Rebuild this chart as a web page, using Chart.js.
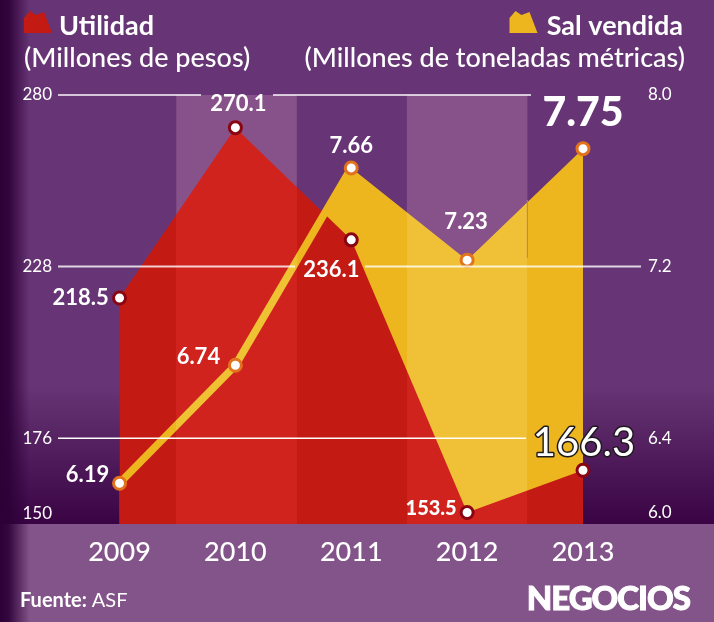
<!DOCTYPE html>
<html>
<head>
<meta charset="utf-8">
<title>Utilidad y sal vendida</title>
<style>
	html, body { margin: 0; padding: 0; background: #835489; }
	canvas { display: block; }
</style>
<script src="https://cdn.jsdelivr.net/npm/chart.js@4/dist/chart.umd.min.js"></script>
</head>
<body>
<canvas id="chart" width="714" height="622"></canvas>
<script>
var years = [2009, 2010, 2011, 2012, 2013];
var utilidad = [218.5, 270.1, 236.1, 153.5, 166.3];
var salVendida = [6.19, 6.74, 7.66, 7.23, 7.75];
var utilidadTicks = [150, 176, 228, 280];
var salTicks = [6.0, 6.4, 7.2, 8.0];
var bandYears = [[2009.49, 2010.53], [2011.48, 2012.52]];

var FONT = 'Lato, "Open Sans", sans-serif';

// where each value label sits, relative to its point, [dx, dy, size, weight]
var utilidadLabelPos = [[-39, 0, 22, 700], [3, -24, 22, 700], [-20, 30, 22, 700], [-36, -4, 20, 900], [1, -27, 40, 400]];
var salLabelPos = [[-32, -8, 22, 700], [-37, -8, 22, 700], [0, -22, 22, 700], [-1, -38, 22, 700], [0, -36, 41, 900]];

function points(values) {
	return years.map(function(y, i) { return {x: y, y: values[i]}; });
}

/* horizontal gradient with hard stops so an area gets lighter inside the bands */
function bandPaint(chart, base, light) {
	var area = chart.chartArea;
	var xs = chart.scales.x;
	if (!area || !xs) return base;
	var g = chart.ctx.createLinearGradient(area.left, 0, area.right, 0);
	var w = area.right - area.left;
	g.addColorStop(0, base);
	bandYears.forEach(function(b) {
		var a0 = (xs.getPixelForValue(b[0]) - area.left) / w;
		var a1 = (xs.getPixelForValue(b[1]) - area.left) / w;
		g.addColorStop(a0, base);
		g.addColorStop(a0, light);
		g.addColorStop(a1, light);
		g.addColorStop(a1, base);
	});
	g.addColorStop(1, base);
	return g;
}

function mountain(ctx, x, color) {
	ctx.fillStyle = color;
	ctx.beginPath();
	ctx.moveTo(x, 33);
	ctx.lineTo(x, 18);
	ctx.lineTo(x + 6, 11);
	ctx.lineTo(x + 12, 15);
	ctx.lineTo(x + 20, 12);
	ctx.lineTo(x + 28, 33);
	ctx.closePath();
	ctx.fill();
}

var backdrop = {
	id: 'backdrop',
	beforeDraw: function(chart) {
		var ctx = chart.ctx;
		var area = chart.chartArea;
		var w = chart.width, h = chart.height;

		ctx.save();
		var v = ctx.createLinearGradient(0, 385, 0, area.bottom);
		v.addColorStop(0, '#673575');
		v.addColorStop(1, '#3a0444');
		ctx.fillStyle = '#673575';
		ctx.fillRect(0, 0, w, 385);
		ctx.fillStyle = v;
		ctx.fillRect(0, 385, w, area.bottom - 385);
		ctx.fillStyle = '#835489';
		ctx.fillRect(0, area.bottom, w, h - area.bottom);

		var edge = ctx.createLinearGradient(0, 0, 30, 0);
		edge.addColorStop(0, 'rgba(45,0,56,1)');
		edge.addColorStop(0.3, 'rgba(45,0,56,0.9)');
		edge.addColorStop(1, 'rgba(45,0,56,0)');
		ctx.fillStyle = edge;
		ctx.fillRect(0, 0, 30, h);

		// lighter columns behind the areas
		var xs = chart.scales.x;
		ctx.fillStyle = '#875289';
		bandYears.forEach(function(b) {
			var x0 = xs.getPixelForValue(b[0]);
			var x1 = xs.getPixelForValue(b[1]);
			ctx.fillRect(x0, area.top, x1 - x0, area.bottom - area.top);
		});
		ctx.restore();
	}
};

var overlay = {
	id: 'overlay',
	beforeDatasetsDraw: function(chart) {
		var ctx = chart.ctx;
		ctx.save();
		ctx.textBaseline = 'alphabetic';
		ctx.textAlign = 'left';
		mountain(ctx, 24, '#c41a14');
		mountain(ctx, 509.5, '#edb51e');
		ctx.fillStyle = '#ffffff';
		ctx.font = '700 27px ' + FONT;
		ctx.fillText('Utilidad', 59, 35);
		ctx.font = '500 27px ' + FONT;
		ctx.fillText('(Millones de pesos)', 24, 67);
		ctx.textAlign = 'right';
		ctx.font = '700 27px ' + FONT;
		ctx.fillText('Sal vendida', 683, 35);
		ctx.font = '500 27px ' + FONT;
		ctx.fillText('(Millones de toneladas métricas)', 685, 67);

		ctx.textAlign = 'left';
		ctx.font = '700 20px ' + FONT;
		ctx.fillText('Fuente:', 20, 607);
		var fw = ctx.measureText('Fuente: ').width;
		ctx.font = '400 20px ' + FONT;
		ctx.fillText('ASF', 20 + fw, 607);
		ctx.textAlign = 'right';
		ctx.font = '900 33px ' + FONT;
		ctx.letterSpacing = '-1px';
		ctx.lineWidth = 1;
		ctx.strokeStyle = '#ffffff';
		ctx.strokeText('NEGOCIOS', 690, 610);
		ctx.fillText('NEGOCIOS', 690, 610);
		ctx.letterSpacing = '0px';
		ctx.restore();
	},
	afterDatasetsDraw: function(chart) {
		var ctx = chart.ctx;
		var y = chart.scales.y, y2 = chart.scales.y2, xs = chart.scales.x;

		ctx.save();
		// thin seam on the edge of the last band
		ctx.lineWidth = 1;
		ctx.strokeStyle = '#b0799a';
		ctx.beginPath();
		ctx.moveTo(xs.getPixelForValue(bandYears[1][1]), 200);
		ctx.lineTo(xs.getPixelForValue(bandYears[1][1]), 258);
		ctx.stroke();

		// grid lines stop around the labels so they are drawn by hand
		ctx.lineWidth = 2;
		ctx.strokeStyle = 'rgba(255,255,255,0.72)';
		hline(ctx, y.getPixelForValue(280), 58, 201);
		hline(ctx, y.getPixelForValue(280), 273, 531);
		ctx.strokeStyle = 'rgba(255,255,255,0.8)';
		hline(ctx, y.getPixelForValue(228), 58, 295);
		hline(ctx, y.getPixelForValue(228), 365, 641);
		ctx.lineWidth = 1.5;
		ctx.strokeStyle = '#ffffff';
		hline(ctx, y.getPixelForValue(176), 58, 526);

		ctx.textAlign = 'center';
		ctx.textBaseline = 'middle';
		ctx.fillStyle = '#ffffff';
		years.forEach(function(yr, i) {
			drawLabel(ctx, salVendida[i].toFixed(2), xs.getPixelForValue(yr), y2.getPixelForValue(salVendida[i]), salLabelPos[i], false);
		});
		years.forEach(function(yr, i) {
			drawLabel(ctx, utilidad[i].toFixed(1), xs.getPixelForValue(yr), y.getPixelForValue(utilidad[i]), utilidadLabelPos[i], i == 4);
		});
		ctx.restore();
	}
};

function hline(ctx, y, x0, x1) {
	ctx.beginPath();
	ctx.moveTo(x0, y);
	ctx.lineTo(x1, y);
	ctx.stroke();
}

function drawLabel(ctx, text, px, py, pos, outlined) {
	ctx.font = pos[3] + ' ' + pos[2] + 'px ' + FONT;
	if (outlined) {
		ctx.lineWidth = 3;
		ctx.lineJoin = 'round';
		ctx.strokeStyle = '#1d1a1d';
		ctx.strokeText(text, px + pos[0], py + pos[1]);
	}
	ctx.fillStyle = '#ffffff';
	ctx.fillText(text, px + pos[0], py + pos[1]);
}

new Chart(document.getElementById('chart'), {
	type: 'line',
	data: {
		datasets: [
			// yellow area sits behind the red one
			{
				label: 'Sal vendida',
				data: points(salVendida),
				yAxisID: 'y2',
				order: 3,
				fill: 'origin',
				borderWidth: 0,
				pointRadius: 0,
				backgroundColor: function(c) { return bandPaint(c.chart, '#edb51e', '#f0c136'); }
			},
			{
				label: 'Utilidad',
				data: points(utilidad),
				yAxisID: 'y',
				order: 2,
				fill: 'origin',
				borderWidth: 0,
				backgroundColor: function(c) { return bandPaint(c.chart, '#c41a14', '#d0231e'); },
				pointRadius: 6,
				pointBorderWidth: 3,
				pointBackgroundColor: '#ffffff',
				pointBorderColor: '#8a0512'
			},
			// thick line only runs up to 2011, markers on all five years
			{
				label: 'Sal vendida (linea)',
				data: points(salVendida),
				yAxisID: 'y2',
				order: 1,
				fill: false,
				borderWidth: 7.5,
				borderColor: 'transparent',
				segment: {
					borderColor: function(c) {
						return c.p0DataIndex < 2 ? bandPaint(c.chart, '#edb51e', '#efc233') : 'transparent';
					}
				},
				pointRadius: 6,
				pointBorderWidth: 3,
				pointBackgroundColor: '#ffffff',
				pointBorderColor: '#e2731c'
			}
		]
	},
	plugins: [backdrop, overlay],
	options: {
		responsive: false,
		animation: false,
		devicePixelRatio: 1,
		layout: {padding: {top: 95}},
		plugins: {legend: {display: false}, tooltip: {enabled: false}},
		scales: {
			x: {
				type: 'linear',
				min: 2008.469,
				max: 2013.492,
				grid: {display: false, drawTicks: false},
				border: {display: false},
				afterBuildTicks: function(s) { s.ticks = years.map(function(v) { return {value: v}; }); },
				afterFit: function(s) { s.height = 98; },
				ticks: {
					autoSkip: false,
					maxRotation: 0,
					padding: 12,
					color: '#ffffff',
					font: {family: FONT, size: 27, weight: '500'},
					callback: function(v) { return String(v); }
				}
			},
			y: {
				position: 'left',
				min: 150,
				max: 280,
				grid: {display: false, drawTicks: false},
				border: {display: false},
				afterBuildTicks: function(s) { s.ticks = utilidadTicks.map(function(v) { return {value: v}; }); },
				afterFit: function(s) { s.width = 58; },
				ticks: {
					padding: 6,
					color: '#ffffff',
					font: {family: FONT, size: 17, lineHeight: 1.2},
					// bottom label is lifted off the baseline with an empty second line
					callback: function(v) { return v == 150 ? [String(v), ''] : String(v); }
				}
			},
			y2: {
				position: 'right',
				min: 6,
				max: 8,
				grid: {display: false, drawTicks: false},
				border: {display: false},
				afterBuildTicks: function(s) { s.ticks = salTicks.map(function(v) { return {value: v}; }); },
				afterFit: function(s) { s.width = 74; },
				ticks: {
					padding: 8,
					color: '#ffffff',
					font: {family: FONT, size: 17, lineHeight: 1.4},
					callback: function(v) { return v == 6 ? [v.toFixed(1), ''] : v.toFixed(1); }
				}
			}
		}
	}
});
</script>
</body>
</html>
